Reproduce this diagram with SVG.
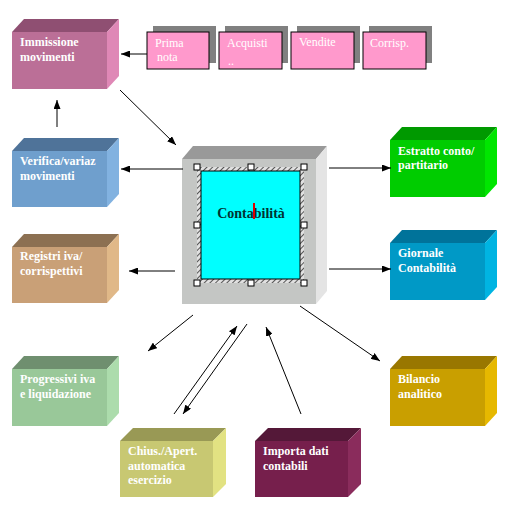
<svg xmlns="http://www.w3.org/2000/svg" width="515" height="506" viewBox="0 0 515 506">
<defs>
<marker id="ah" markerWidth="9" markerHeight="7" refX="9" refY="3.5" orient="auto" markerUnits="userSpaceOnUse">
<path d="M0,0 L9,3.5 L0,7 z" fill="#000"/>
</marker>
<pattern id="hatch" width="4" height="4" patternUnits="userSpaceOnUse" patternTransform="rotate(45)">
<rect width="4" height="4" fill="#e0e0e0"/>
<line x1="0" y1="0" x2="0" y2="4" stroke="#333" stroke-width="1.6"/>
</pattern>
</defs>
<style>
.lbl{font-family:"Liberation Serif","Times New Roman",serif;font-weight:bold;font-size:12px;fill:#fff}
.sm{font-family:"Liberation Serif","Times New Roman",serif;font-size:12px;fill:#fff}
.card{fill:#ff99cc;stroke:#000;stroke-width:1}
.shadow{fill:#808080}
.conn line{stroke:#000;stroke-width:1;marker-end:url(#ah)}
.h{fill:#fff;stroke:#000;stroke-width:1}
</style>
<rect width="515" height="506" fill="#fff"/>

<g id="immissione">
<polygon points="12,32 24,19 119,19 107,32" fill="#8f4f72"/>
<polygon points="107,32 119,19 119,76 107,89" fill="#df88b6"/>
<rect x="12" y="32" width="95" height="57" fill="#bb6f97"/>
<text class="lbl" x="20" y="46">Immissione</text>
<text class="lbl" x="20" y="61">movimenti</text>
</g>

<g id="prima-nota">
<rect class="shadow" x="153" y="26" width="63" height="37"/>
<rect class="card" x="147" y="32" width="62" height="37"/>
<text class="sm" x="155" y="47">Prima</text>
<text class="sm" x="157" y="61">nota</text>
</g>
<g id="acquisti">
<rect class="shadow" x="225" y="26" width="63" height="37"/>
<rect class="card" x="219" y="32" width="63" height="37"/>
<text class="sm" x="227" y="47">Acquisti</text>
<text class="sm" x="228" y="65">..</text>
</g>
<g id="vendite">
<rect class="shadow" x="297" y="26" width="63" height="37"/>
<rect class="card" x="291" y="32" width="63" height="37"/>
<text class="sm" x="299" y="46">Vendite</text>
</g>
<g id="corrisp">
<rect class="shadow" x="369" y="26" width="63" height="37"/>
<rect class="card" x="363" y="32" width="63" height="37"/>
<text class="sm" x="370" y="47">Corrisp.</text>
</g>

<g id="verifica">
<polygon points="12,151 24,138 119,138 107,151" fill="#4f7399"/>
<polygon points="107,151 119,138 119,194 107,207" fill="#82b2e0"/>
<rect x="12" y="151" width="95" height="56" fill="#6f9fcd"/>
<text class="lbl" x="20" y="165">Verifica/variaz</text>
<text class="lbl" x="20" y="180">movimenti</text>
</g>

<g id="registri">
<polygon points="12,247 24,234 119,234 107,247" fill="#8c7052"/>
<polygon points="107,247 119,234 119,290 107,303" fill="#e0b888"/>
<rect x="12" y="247" width="95" height="56" fill="#c9a077"/>
<text class="lbl" x="20" y="260">Registri iva/</text>
<text class="lbl" x="20" y="275">corrispettivi</text>
</g>

<g id="progressivi">
<polygon points="12,369 24,356 119,356 107,369" fill="#6f8f6f"/>
<polygon points="107,369 119,356 119,413 107,426" fill="#acdcac"/>
<rect x="12" y="369" width="95" height="57" fill="#99c899"/>
<text class="lbl" x="20" y="383">Progressivi iva</text>
<text class="lbl" x="20" y="398">e liquidazione</text>
</g>

<g id="chius">
<polygon points="120,441 133,428 226,428 213,441" fill="#999955"/>
<polygon points="213,441 226,428 226,484 213,497" fill="#e2e282"/>
<rect x="120" y="441" width="93" height="56" fill="#c8c872"/>
<text class="lbl" x="128" y="455">Chius./Apert.</text>
<text class="lbl" x="128" y="470">automatica</text>
<text class="lbl" x="128" y="484">esercizio</text>
</g>

<g id="importa">
<polygon points="255,441 268,428 361,428 348,441" fill="#541838"/>
<polygon points="348,441 361,428 361,484 348,497" fill="#8a2c5c"/>
<rect x="255" y="441" width="93" height="56" fill="#761f4c"/>
<text class="lbl" x="263" y="455">Importa dati</text>
<text class="lbl" x="263" y="470">contabili</text>
</g>

<g id="bilancio">
<polygon points="390,369 402,356 497,356 485,369" fill="#997700"/>
<polygon points="485,369 497,356 497,413 485,426" fill="#e6b800"/>
<rect x="390" y="369" width="95" height="57" fill="#c99f00"/>
<text class="lbl" x="398" y="383">Bilancio</text>
<text class="lbl" x="398" y="398">analitico</text>
</g>

<g id="estratto">
<polygon points="390,140 402,127 497,127 485,140" fill="#009900"/>
<polygon points="485,140 497,127 497,184 485,197" fill="#00e600"/>
<rect x="390" y="140" width="95" height="57" fill="#00cc00"/>
<text class="lbl" x="398" y="155">Estratto conto/</text>
<text class="lbl" x="398" y="169">partitario</text>
</g>

<g id="giornale">
<polygon points="390,243 402,230 497,230 485,243" fill="#00739a"/>
<polygon points="485,243 497,230 497,287 485,300" fill="#00b4e2"/>
<rect x="390" y="243" width="95" height="57" fill="#0099c6"/>
<text class="lbl" x="398" y="257">Giornale</text>
<text class="lbl" x="398" y="272">Contabilità</text>
</g>

<g id="contabilita">
<polygon points="182,159 193,146 327,146 316,159" fill="#999999"/>
<polygon points="316,159 327,146 327,291 316,304" fill="#e4e4e4"/>
<rect x="182" y="159" width="134" height="145" fill="#c4c6c4"/>
<rect x="197" y="167" width="107" height="116" fill="url(#hatch)"/>
<rect x="201" y="171" width="99" height="108" fill="#00ffff" stroke="#000" stroke-width="1"/>
<rect class="h" x="194" y="164" width="6" height="6"/>
<rect class="h" x="248" y="164" width="6" height="6"/>
<rect class="h" x="301" y="164" width="6" height="6"/>
<rect class="h" x="194" y="222" width="6" height="6"/>
<rect class="h" x="301" y="222" width="6" height="6"/>
<rect class="h" x="194" y="280" width="6" height="6"/>
<rect class="h" x="248" y="280" width="6" height="6"/>
<rect class="h" x="301" y="280" width="6" height="6"/>
<text x="251" y="218" text-anchor="middle" font-family="'Liberation Serif','Times New Roman',serif" font-weight="bold" font-size="14" fill="#003333">Contabilità</text>
<rect x="253" y="203" width="2" height="16" fill="#e00000"/>
</g>

<g class="conn" id="connectors">
<line x1="147" y1="54" x2="121" y2="54"/>
<line x1="57" y1="127" x2="57" y2="100"/>
<line x1="120" y1="90" x2="176" y2="145"/>
<line x1="183" y1="169" x2="121" y2="169"/>
<line x1="175" y1="271" x2="129" y2="271"/>
<line x1="329" y1="168" x2="391" y2="168"/>
<line x1="329" y1="269" x2="391" y2="269"/>
<line x1="193" y1="315" x2="148" y2="351"/>
<line x1="174" y1="414" x2="237" y2="326"/>
<line x1="247" y1="324" x2="183" y2="414"/>
<line x1="301" y1="414" x2="266" y2="327"/>
<line x1="300" y1="306" x2="380" y2="361"/>
</g>
</svg>
